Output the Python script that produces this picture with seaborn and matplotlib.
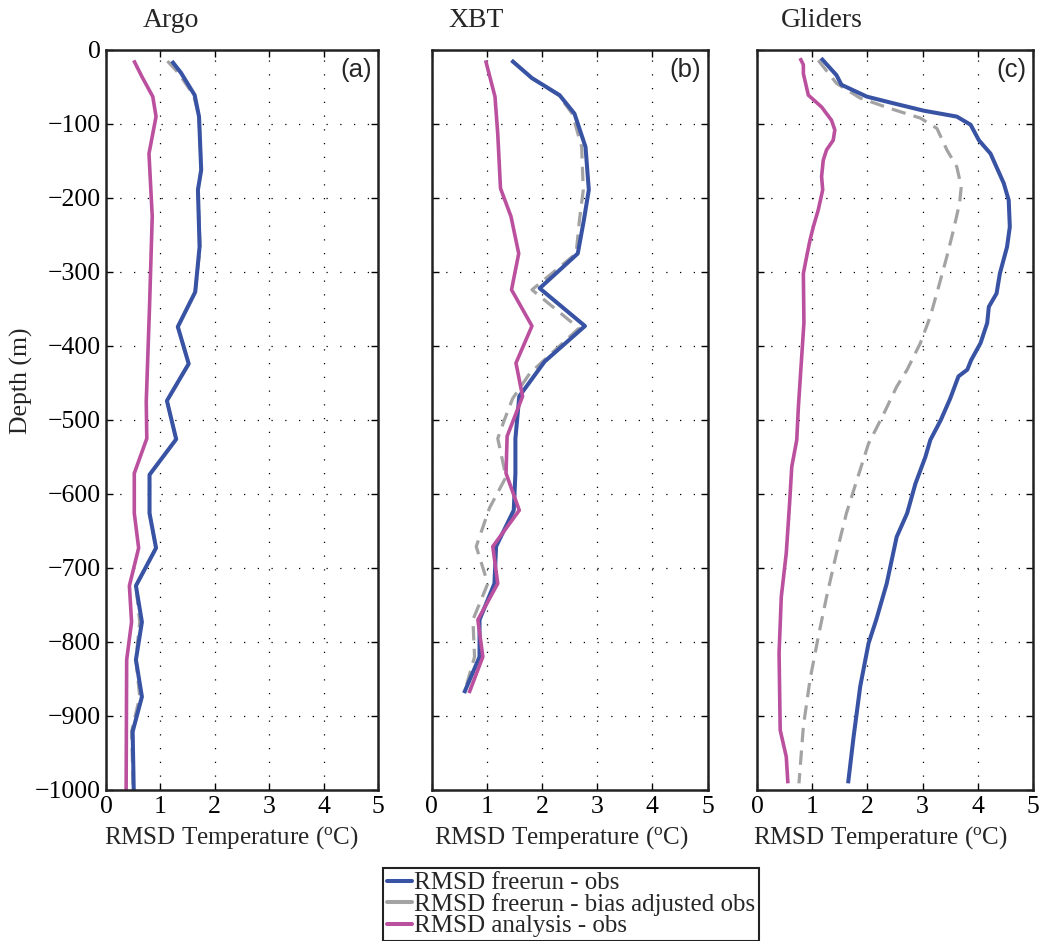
import numpy as np
import pandas as pd
import matplotlib
matplotlib.use("Agg")
import matplotlib.pyplot as plt
import seaborn as sns
from matplotlib.lines import Line2D

sns.set_style("ticks")
plt.rcParams["font.family"] = ["Liberation Serif", "DejaVu Serif"]
plt.rcParams["mathtext.fontset"] = "custom"
plt.rcParams["mathtext.rm"] = "Liberation Serif"
plt.rcParams["mathtext.it"] = "Liberation Serif:italic"

# ---------------- data ----------------
titles = ["Argo", "XBT", "Gliders"]
panel_labels = ["(a)", "(b)", "(c)"]
series_names = ["RMSD freerun - obs", "RMSD freerun - bias adjusted obs", "RMSD analysis - obs"]

# Argo
argo_free_depth = [-15, -31, -61, -90, -162, -189, -266, -327, -374, -424, -474, -526,
                   -574, -626, -673, -724, -773, -824, -874, -921, -1000]
argo_free = [1.21, 1.38, 1.63, 1.71, 1.75, 1.69, 1.72, 1.64, 1.32, 1.52, 1.12, 1.29,
             0.80, 0.80, 0.92, 0.55, 0.66, 0.55, 0.66, 0.49, 0.51]
argo_bias_depth = argo_free_depth
argo_bias = [1.13, 1.33, 1.61, 1.71, 1.75, 1.69, 1.73, 1.64, 1.32, 1.52, 1.12, 1.29,
             0.80, 0.80, 0.92, 0.55, 0.62, 0.55, 0.62, 0.47, 0.50]
argo_anal_depth = [-14, -36, -63, -90, -140, -225, -347, -475, -525, -572, -626, -673,
                   -724, -773, -824, -1000]
argo_anal = [0.51, 0.66, 0.86, 0.92, 0.79, 0.85, 0.80, 0.74, 0.75, 0.52, 0.52, 0.60,
             0.43, 0.47, 0.38, 0.37]

# XBT
xbt_free_depth = [-14, -38, -61, -86, -131, -189, -230, -275, -322, -373, -421, -468,
                  -525, -572, -622, -671, -721, -770, -820, -869]
xbt_free = [1.45, 1.82, 2.32, 2.59, 2.79, 2.85, 2.76, 2.65, 1.96, 2.78, 2.05, 1.59,
            1.52, 1.52, 1.49, 1.17, 1.14, 0.87, 0.87, 0.59]
xbt_bias_depth = [-14, -38, -61, -86, -131, -189, -230, -275, -324, -376, -437, -471,
                  -500, -525, -577, -619, -671, -721, -770, -820, -862]
xbt_bias = [1.45, 1.82, 2.30, 2.55, 2.72, 2.75, 2.68, 2.62, 1.82, 2.67, 1.78, 1.47,
            1.32, 1.20, 1.35, 1.05, 0.81, 1.02, 0.75, 0.78, 0.62]
xbt_anal_depth = [-14, -63, -113, -187, -225, -275, -324, -373, -423, -468, -522, -572,
                  -622, -671, -721, -770, -820, -869]
xbt_anal = [0.98, 1.15, 1.20, 1.25, 1.44, 1.58, 1.45, 1.82, 1.53, 1.65, 1.37, 1.35,
            1.59, 1.11, 1.20, 0.84, 0.93, 0.68]

# Gliders
gl_free_depth = [-11, -34, -47, -63, -72, -82, -90, -101, -122, -140, -160, -180, -203,
                 -239, -266, -302, -329, -347, -369, -396, -419, -432, -441, -471, -500,
                 -527, -550, -586, -626, -658, -721, -770, -802, -860, -928, -991]
gl_free = [1.16, 1.44, 1.53, 1.99, 2.47, 3.02, 3.62, 3.87, 4.02, 4.23, 4.35, 4.47, 4.56,
           4.58, 4.53, 4.40, 4.34, 4.20, 4.17, 4.05, 3.88, 3.81, 3.65, 3.50, 3.33,
           3.14, 3.05, 2.87, 2.72, 2.53, 2.35, 2.16, 2.02, 1.87, 1.75, 1.65]
gl_bias_depth = [-14, -45, -65, -79, -92, -106, -135, -158, -185, -207, -243, -279, -320,
                 -360, -396, -432, -455, -491, -532, -581, -626, -680, -739, -793, -851,
                 -914, -991]
gl_bias = [1.11, 1.44, 1.87, 2.41, 2.96, 3.26, 3.44, 3.62, 3.70, 3.67, 3.56, 3.44, 3.29,
           3.14, 2.96, 2.72, 2.53, 2.30, 2.02, 1.81, 1.62, 1.44, 1.26, 1.11, 0.96,
           0.84, 0.76]
gl_anal_depth = [-11, -20, -32, -61, -77, -95, -108, -122, -135, -149, -171, -189, -216,
                 -239, -257, -279, -302, -369, -414, -482, -527, -563, -613, -680, -739,
                 -815, -919, -955, -991]
gl_anal = [0.78, 0.84, 0.84, 0.93, 1.17, 1.35, 1.41, 1.38, 1.26, 1.20, 1.17, 1.19, 1.11,
           1.02, 0.96, 0.90, 0.84, 0.85, 0.81, 0.75, 0.72, 0.63, 0.59, 0.53, 0.44,
           0.40, 0.42, 0.53, 0.56]

x_ticks = [0, 1, 2, 3, 4, 5]
y_ticks = [0, -100, -200, -300, -400, -500, -600, -700, -800, -900, -1000]

panels = [
    [(argo_bias, argo_bias_depth), (argo_free, argo_free_depth), (argo_anal, argo_anal_depth)],
    [(xbt_bias, xbt_bias_depth), (xbt_free, xbt_free_depth), (xbt_anal, xbt_anal_depth)],
    [(gl_bias, gl_bias_depth), (gl_free, gl_free_depth), (gl_anal, gl_anal_depth)],
]
order_names = [series_names[1], series_names[0], series_names[2]]

c_blue = "#3953a4"
c_grey = "#a3a3a3"
c_mag = "#bb509f"
styles = {
    series_names[1]: dict(color=c_grey, lw=2.3, dashes=(4.5, 2.6)),
    series_names[0]: dict(color=c_blue, lw=2.9),
    series_names[2]: dict(color=c_mag, lw=2.6),
}

# ---------------- figure ----------------
fig = plt.figure(figsize=(10.4, 9.41), dpi=100)
H = 941.0
W = 1040.0
top_px, bot_px = 50, 790
ax_lefts = [106, 431.5, 757]
ax_widths = [272, 276, 276]
title_x = [0.24, 0.16, 0.235]
xlabel_x = [0.46, 0.47, 0.448]

for i in range(3):
    ax = fig.add_axes([ax_lefts[i] / W, 1 - bot_px / H, ax_widths[i] / W, (bot_px - top_px) / H])
    for (vals, depths), name in zip(panels[i], order_names):
        df = pd.DataFrame({"rmsd": vals, "depth": depths})
        st = styles[name]
        line_kw = dict(color=st["color"], linewidth=st["lw"], solid_capstyle="butt")
        sns.lineplot(data=df, x="rmsd", y="depth", orient="y", sort=False, estimator=None,
                     ax=ax, legend=False, **line_kw)
        if "dashes" in st:
            ax.lines[-1].set_dashes(st["dashes"])
    ax.set_xlim(0, 5)
    ax.set_ylim(-1000, 0)
    ax.set_xticks(x_ticks)
    ax.set_yticks(y_ticks)
    ax.grid(True, color="black", linestyle=(0, (1, 10)), linewidth=0.9)
    ax.tick_params(direction="in", top=True, right=True, length=5, width=1,
                   labelsize=18.5, pad=4, colors="black")
    for sp in ax.spines.values():
        sp.set_linewidth(1.8)
        sp.set_color("#222222")
    ax.set_xlabel("RMSD Temperature ($^{\\rm o}$C)", fontsize=18)
    ax.xaxis.set_label_coords(xlabel_x[i], -0.046)
    if i == 0:
        ax.set_ylabel("Depth (m)", fontsize=18.5)
        ax.yaxis.set_label_coords(-0.268, 0.553)
    else:
        ax.set_ylabel("")
        ax.set_yticklabels([])
    ax.text(title_x[i], 1.04, titles[i], transform=ax.transAxes, ha="center",
            va="center", fontsize=20)
    ax.text(0.978, 0.973, panel_labels[i], transform=ax.transAxes, ha="right",
            va="center", fontsize=18.5, family="Liberation Sans")

handles = [Line2D([], [], color=c_blue, lw=2.9),
           Line2D([], [], color=c_grey, lw=2.9),
           Line2D([], [], color=c_mag, lw=2.9)]
leg = fig.legend(handles, series_names, loc="lower left", bbox_to_anchor=(383 / W, 0.0),
                 frameon=True, fancybox=False, edgecolor="#222222", framealpha=1,
                 fontsize=18, handlelength=1.0, handletextpad=0.1, labelspacing=-0.05,
                 borderpad=0.15, borderaxespad=0)
leg.get_frame().set_linewidth(1.5)

fig.savefig("out.png", dpi=100)
